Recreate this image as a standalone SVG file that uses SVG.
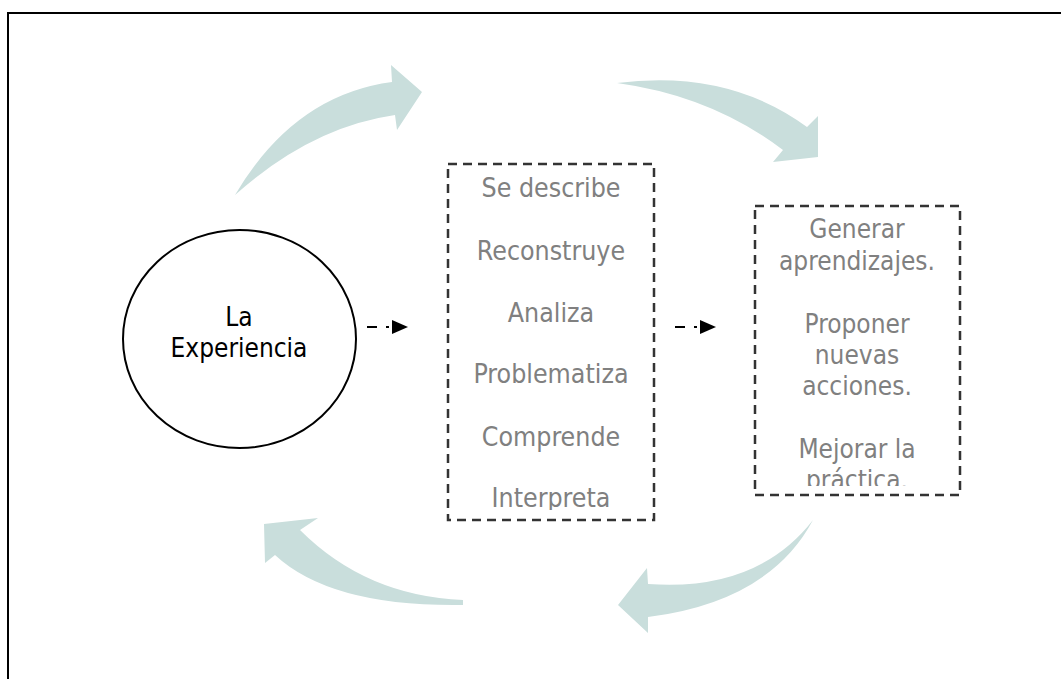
<svg xmlns="http://www.w3.org/2000/svg" width="1061" height="679" viewBox="0 0 1061 679">
<style>
.frame{stroke:#000;stroke-width:2;fill:none}
.big{fill:#c9dedc;stroke:none}
.box{fill:none;stroke:#333;stroke-width:2.5;stroke-dasharray:9 6}
.gt{font-family:"DejaVu Sans Condensed","DejaVu Sans",Verdana,sans-serif;font-stretch:condensed;fill:#808080;text-anchor:middle}
.bt{font-family:"DejaVu Sans Condensed","DejaVu Sans",Verdana,sans-serif;font-stretch:condensed;fill:#000;text-anchor:middle;font-size:26px}
.con{stroke:#000;stroke-width:2;fill:none}
.head{fill:#000}
</style>
<defs>
<clipPath id="c1"><rect x="449" y="165" width="204" height="345"/></clipPath>
<clipPath id="c2"><rect x="756" y="207" width="203" height="279"/></clipPath>
</defs>
<rect width="1061" height="679" fill="#fff"/>
<path class="frame" d="M8,679 V13 H1061"/>
<g id="cycle-arrows">
<path class="big" d="M235,195 Q294,95 392,82 L391,65 L422,92 L397,130 L395,115 Q311,127 235,195 Z"/>
<path class="big" d="M617,83 Q728,69 807,127 L818,116 L818,157 L773,162 L783,150 Q712,96 617,83 Z"/>
<path class="big" d="M813,520 Q757,592 648,584 L647,568 L618,605 L648,633 L648,617 Q769.5,601.5 813,520 Z"/>
<path class="big" d="M463,600 Q366,596 300,530 L318,518 L264,524 L265,563 L275,555 Q331,607 463,605 Z"/>
</g>
<g id="experiencia">
<ellipse cx="239.5" cy="339" rx="116.5" ry="109" fill="#fff" stroke="#000" stroke-width="2"/>
<text class="bt" x="239" y="326">La</text>
<text class="bt" x="239" y="357">Experiencia</text>
</g>
<g id="proceso">
<rect class="box" x="448" y="164" width="206" height="356"/>
<g clip-path="url(#c1)" class="gt" font-size="26.5">
<text x="551" y="197">Se describe</text>
<text x="551" y="260">Reconstruye</text>
<text x="551" y="322">Analiza</text>
<text x="551" y="383">Problematiza</text>
<text x="551" y="446">Comprende</text>
<text x="551" y="507">Interpreta</text>
</g>
</g>
<g id="resultados">
<rect class="box" x="755" y="206" width="205" height="289"/>
<g clip-path="url(#c2)" class="gt" font-size="26">
<text x="857" y="238">Generar</text>
<text x="857" y="270">aprendizajes.</text>
<text x="857" y="333">Proponer</text>
<text x="857" y="364">nuevas</text>
<text x="857" y="395">acciones.</text>
<text x="857" y="458">Mejorar la</text>
<text x="857" y="489">práctica.</text>
</g>
</g>
<g id="connectors">
<path class="con" d="M367,327 H377 M386,327 H389"/>
<polygon class="head" points="392,320 408,327 392,334"/>
<path class="con" d="M675,327 H685 M694,327 H697"/>
<polygon class="head" points="700,320 716,327 700,334"/>
</g>
</svg>
